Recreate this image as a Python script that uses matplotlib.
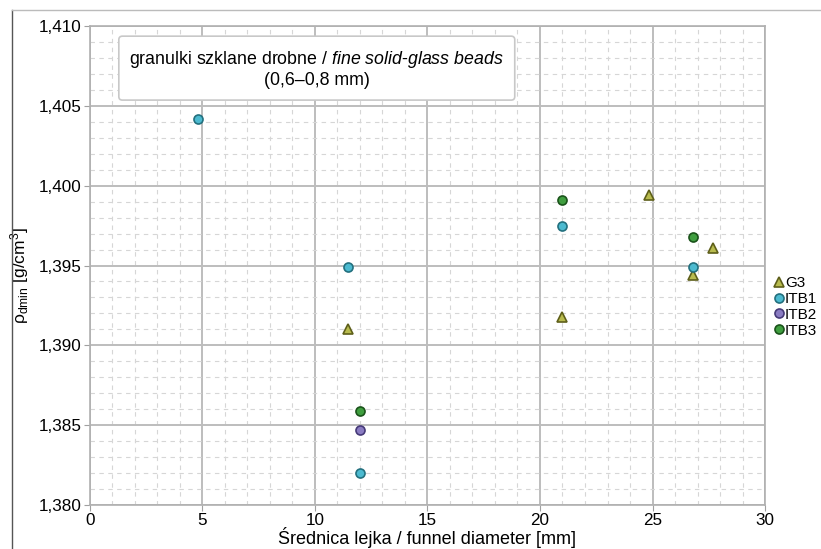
import matplotlib
matplotlib.use('Agg')
import matplotlib.pyplot as plt
from matplotlib.ticker import MultipleLocator, FuncFormatter
from matplotlib.lines import Line2D

plt.rcParams['font.family'] = ['Liberation Sans', 'DejaVu Sans']
plt.rcParams['mathtext.fontset'] = 'custom'
plt.rcParams['mathtext.rm'] = 'Liberation Sans'
plt.rcParams['mathtext.it'] = 'Liberation Sans:italic'

# data
g3_x = [11.45, 21.0, 24.85, 26.8, 27.7]
g3_y = [1.3910, 1.3918, 1.3994, 1.3944, 1.3961]
itb1_x = [4.78, 11.45, 12.0, 21.0, 26.8]
itb1_y = [1.4042, 1.3949, 1.3820, 1.3975, 1.3949]
itb2_x = [12.0]
itb2_y = [1.3847]
itb3_x = [12.0, 21.0, 26.8]
itb3_y = [1.3859, 1.3991, 1.3968]

series = [
    ('G3', g3_x, g3_y, '^', '#b8bb4e', '#5e5f1a'),
    ('ITB1', itb1_x, itb1_y, 'o', '#4cbad0', '#23707e'),
    ('ITB2', itb2_x, itb2_y, 'o', '#8a7cc2', '#463a78'),
    ('ITB3', itb3_x, itb3_y, 'o', '#3f9e3f', '#1a531a'),
]

fig = plt.figure(figsize=(8.21, 5.49), dpi=100)
ax = fig.add_axes([0.1096, 0.0801, 0.8222, 0.8725])

ax.set_xlim(0, 30)
ax.set_ylim(1.380, 1.410)
ax.xaxis.set_major_locator(MultipleLocator(5))
ax.xaxis.set_minor_locator(MultipleLocator(1))
ax.yaxis.set_major_locator(MultipleLocator(0.005))
ax.yaxis.set_minor_locator(MultipleLocator(0.001))
ax.yaxis.set_major_formatter(FuncFormatter(lambda v, p: ('%.3f' % v).replace('.', ',')))

ax.grid(True, which='major', color='#bdbdbd', lw=1.4, zorder=0)
ax.grid(True, which='minor', color='#d6d6d6', lw=0.8, ls=(0, (4, 4)), zorder=0)
ax.set_axisbelow(True)
for s in ax.spines.values():
    s.set_color('#b0b0b0')
    s.set_linewidth(1.2)
ax.tick_params(which='major', length=4, color='#a0a0a0', labelsize=12.3, pad=2)
ax.tick_params(which='minor', length=0)

for name, xs, ys, mk, fc, ec in series:
    ms = 7 if mk == '^' else 6.5
    ax.plot(xs, ys, mk, ms=ms, mfc=fc, mec=ec, mew=1.2, ls='none', zorder=3)

ax.set_xlabel('Średnica lejka / funnel diameter [mm]', fontsize=13, labelpad=-1)
ax.set_ylabel('ρ$_{\\mathrm{dmin}}$ [g/cm$^3$]', fontsize=12.5)
ax.yaxis.set_label_coords(-0.088, 0.48)

ax.text(0.336, 0.910, 'granulki szklane drobne / $\\it{fine\\ solid}$-$\\it{glass\\ beads}$\n(0,6–0,8 mm)',
        transform=ax.transAxes, ha='center', va='center', fontsize=12.8, linespacing=1.2,
        bbox=dict(boxstyle='round,pad=0.6,rounding_size=0.2', fc='white', ec='#c8c8c8', lw=1.2),
        zorder=5)

handles = [Line2D([], [], marker=mk, ls='none', ms=6.5, mfc=fc, mec=ec, mew=1.2)
           for name, xs, ys, mk, fc, ec in series]
ax.legend(handles, [s[0] for s in series], loc='upper left', bbox_to_anchor=(1.0, 0.497),
          frameon=False, fontsize=11, handlelength=0.6, handletextpad=0.1,
          labelspacing=0.12, borderaxespad=0.2)

# picture frame lines
fig.add_artist(Line2D([12 / 821, 12 / 821], [0, 1 - 10 / 549], color='#555555', lw=1.0))
fig.add_artist(Line2D([12 / 821, 1], [1 - 10 / 549, 1 - 10 / 549], color='#bbbbbb', lw=1.0))

fig.savefig('out.png', dpi=100)
